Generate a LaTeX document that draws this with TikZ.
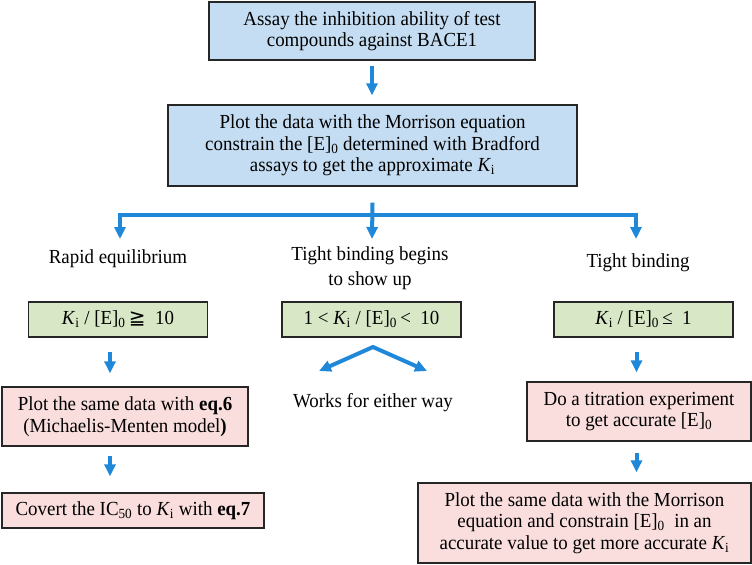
\documentclass[tikz,border=0pt]{standalone}
\usepackage{fontspec}
\setmainfont{Liberation Serif}[FakeStretch=0.95]
\newfontfamily\symfont{DejaVu Sans}
\usetikzlibrary{arrows.meta}
\definecolor{arrblue}{RGB}{32,136,216}
\definecolor{bluefill}{RGB}{197,221,242}
\definecolor{greenfill}{RGB}{216,232,198}
\definecolor{pinkfill}{RGB}{250,222,222}
\newcommand{\Ki}{\textit{K}\textsubscript{i}}
\newcommand{\Ez}{[E]\textsubscript{0}}
\begin{document}
\begin{tikzpicture}[x=1bp,y=-1bp,
  box/.style={draw=black!85, line width=1.3bp, inner sep=0pt, align=center, font=\fontsize{20}{21.5}\selectfont},
  bluebox/.style={box, fill=bluefill},
  greenbox/.style={box, fill=greenfill, minimum width=179bp, minimum height=35bp},
  pinkbox/.style={box, fill=pinkfill},
  lbl/.style={inner sep=0pt, align=center, font=\fontsize{20}{25}\selectfont},
  conn/.style={draw=arrblue, line width=4bp},
  arr/.style={conn, -{Triangle[width=11bp,length=12bp]}},
]
\useasboundingbox (0,0) rectangle (752,565);

% boxes
\node[bluebox, minimum width=326bp, minimum height=58bp] (b1) at (372,31)
  {Assay the inhibition ability of test\\compounds against BACE1};
\node[bluebox, minimum width=409bp, minimum height=81bp] (b2) at (372.5,145.5)
  {Plot the data with the Morrison equation\\constrain the \Ez\ determined with Bradford\\assays to get the approximate \Ki};

\node[lbl] (rapid) at (118,259) {Rapid equilibrium};
\node[lbl] (tbb) at (370,268) {Tight binding begins\\to show up};
\node[lbl] (tb) at (638,263) {Tight binding};

\node[greenbox] (gL) at (118,319.5) {\Ki\ / \Ez\,{\symfont ≧}\ \ 10};
\node[greenbox] (gM) at (371.5,319.5) {1 <\ \Ki\ / \Ez\,< \ 10};
\node[greenbox] (gR) at (643.5,319.5) {\Ki\ / \Ez\,≤\ \ 1};

\node[lbl] (works) at (373,403) {Works for either way};

\node[pinkbox, minimum width=246bp, minimum height=59bp] (pL1) at (125,416.5)
  {Plot the same data with \textbf{eq.6}\\(Michaelis-Menten model\textbf{)}};
\node[pinkbox, minimum width=262bp, minimum height=35bp] (pL2) at (133,510.5)
  {Covert the IC\textsubscript{50} to \Ki\ with \textbf{eq.7}};
\node[pinkbox, minimum width=224bp, minimum height=59bp] (pR1) at (639,411.5)
  {Do a titration experiment\\to get accurate \Ez};
\node[pinkbox, minimum width=333bp, minimum height=80bp] (pR2) at (584.5,523)
  {Plot the same data with the Morrison\\equation and constrain \Ez\ \ in an\\accurate value to get more accurate \Ki};

% connectors
\draw[arr, shorten <=5bp, shorten >=9bp] (b1.south) -- (b1.south |- b2.north);

\coordinate (jM) at (372,215);
\coordinate (jL) at (120,215);
\coordinate (jR) at (636,215);
\coordinate (tL) at (120,239);
\coordinate (tM) at (372,239);
\coordinate (tR) at (636,239);
\draw[arr] ([yshift=-16bp]b2.south) -- (tM);
\draw[arr] (jM) -- (jL) -- (tL);
\draw[arr] (jM) -- (jR) -- (tR);

\coordinate (xL) at (110,0);
\coordinate (xR) at (636.5,0);
\draw[arr, shorten <=14bp, shorten >=13bp] (gL.south -| xL) -- (pL1.north -| xL);
\draw[arr, shorten <=9bp, shorten >=16bp] (pL1.south -| xL) -- (pL2.north -| xL);
\draw[arr, shorten <=14bp, shorten >=9bp] (gR.south -| xR) -- (pR1.north -| xR);
\draw[arr, shorten <=11bp, shorten >=10bp] (pR1.south -| xR) -- (pR2.north -| xR);

\coordinate (apex) at (373,347);
\coordinate (dL) at (319,371);
\coordinate (dR) at (427,371);
\draw[conn, {Triangle[width=11bp,length=12bp]}-{Triangle[width=11bp,length=12bp]}] (dL) -- (apex) -- (dR);
\end{tikzpicture}
\end{document}
